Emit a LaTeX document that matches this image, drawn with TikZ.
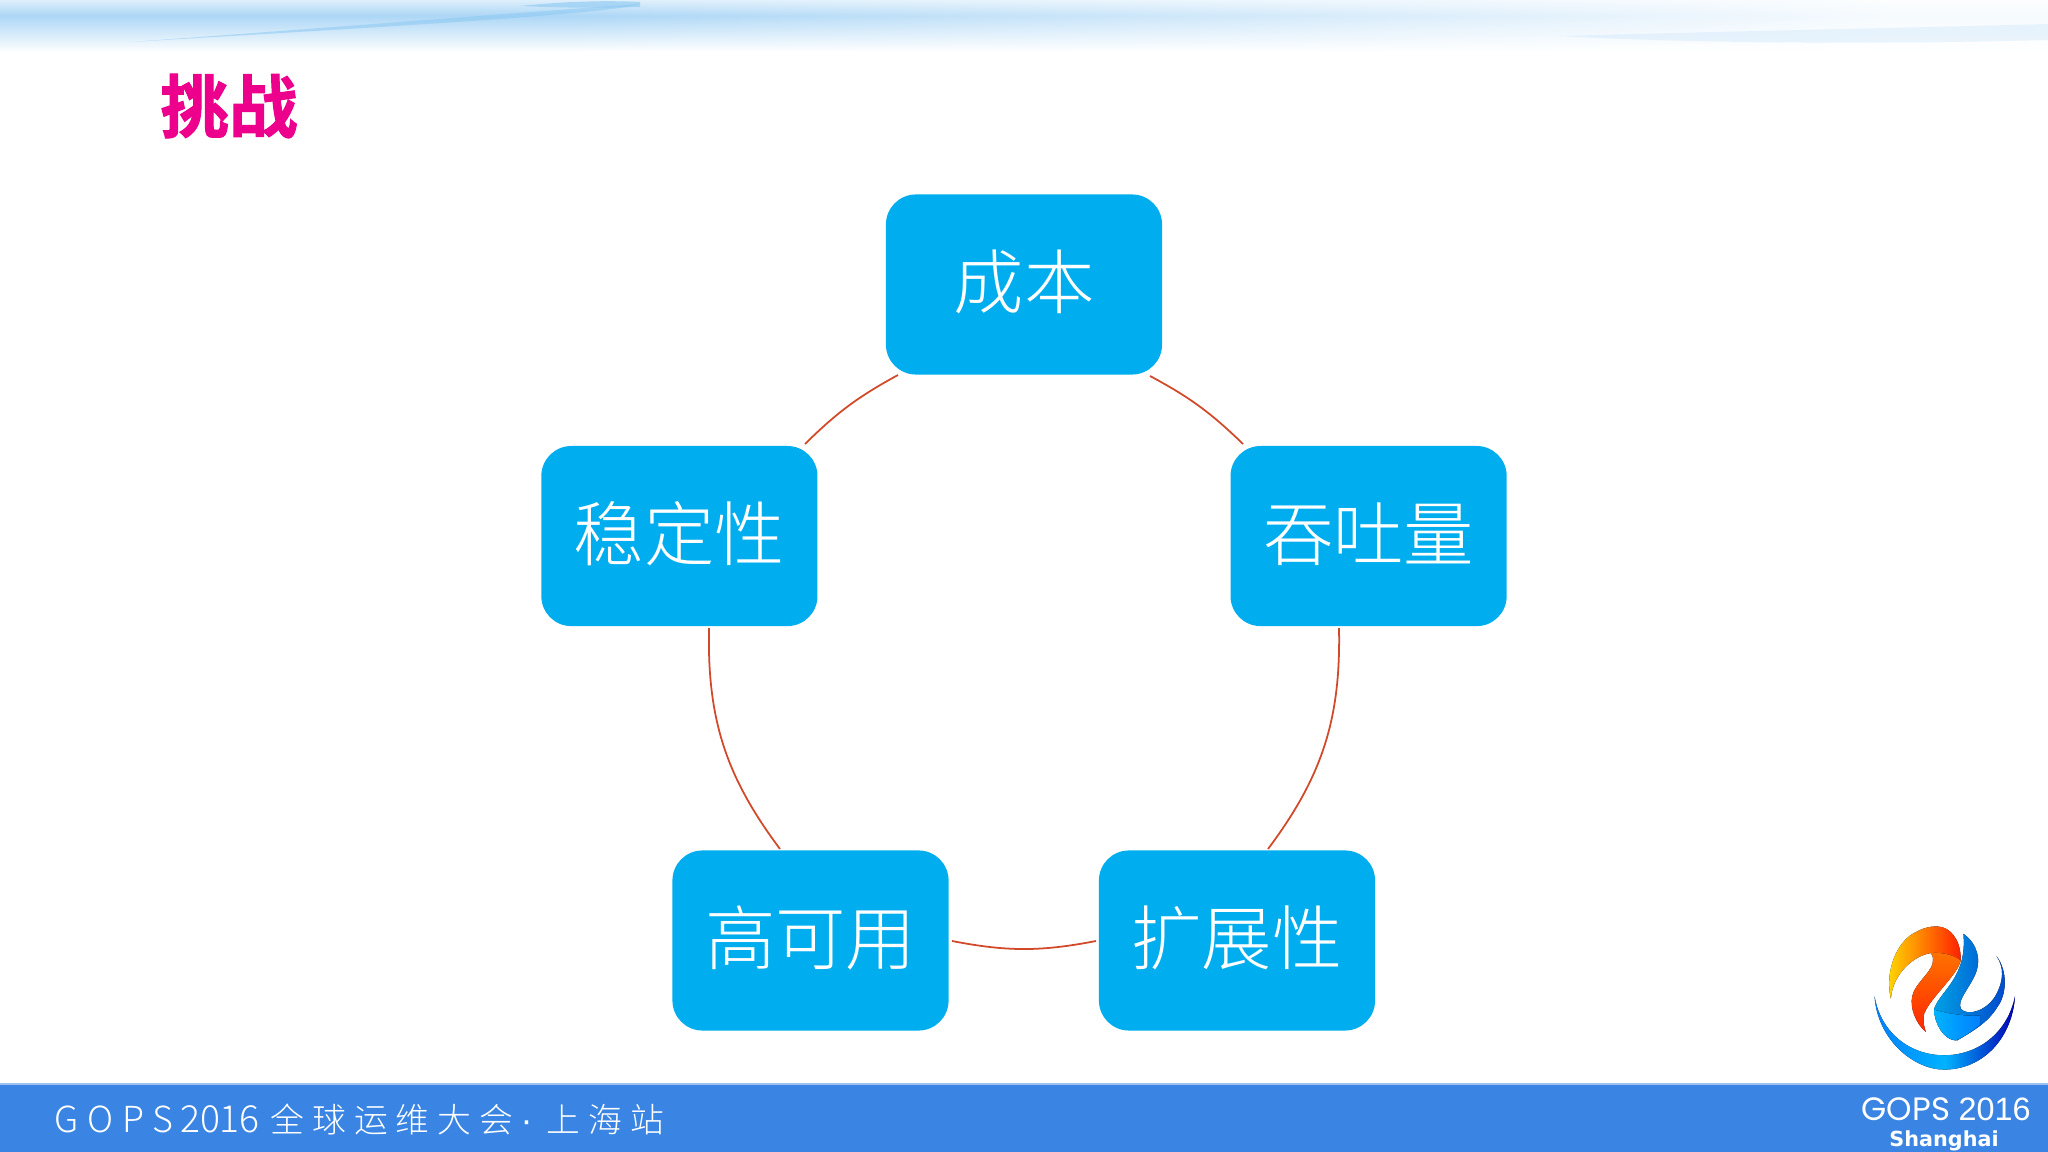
\documentclass[tikz,border=0pt]{standalone}
\usepackage{fontspec}
\usepackage{tikz}
\usetikzlibrary{positioning}
\newfontfamily\cjkfont{Noto Sans CJK SC Light}
\newfontfamily\cjkbold[FakeBold=1.5]{Noto Sans CJK SC Bold}
\newfontfamily\footfont[LetterSpace=24]{Noto Sans CJK SC Light}
\newfontfamily\footplain{Noto Sans CJK SC Light}
\newfontfamily\logofont{Poppins}
\newfontfamily\yearfont{Liberation Sans}
\definecolor{boxblue}{HTML}{00AEEF}
\definecolor{arcred}{HTML}{D2492A}
\definecolor{barblue}{HTML}{3A85E3}
\definecolor{titlepink}{HTML}{EC008C}
\definecolor{skyblue}{HTML}{8CC8F2}
\pgfdeclarefunctionalshading{skyband}{\pgfpoint{-50bp}{-50bp}}{\pgfpoint{50bp}{50bp}}{}{
  25 exch sub 50 div
  dup 0 lt {pop 0}{} ifelse
  dup 1 gt {pop 1}{} ifelse
  dup 0.3 lt {2.0 mul 0.4 add}{1 exch sub 1.43 mul} ifelse
  exch 25 add 50 div 1 exch sub
  dup 0.08 lt {pop 0.08}{} ifelse
  dup 0.72 gt {pop 0.72}{} ifelse
  mul
  dup 0.45 mul 1 exch sub exch
  dup 0.22 mul 1 exch sub exch
  0.05 mul 1 exch sub
}
\begin{document}
\begin{tikzpicture}[x=0.01cm,y=-0.01cm,
  roundbox/.style={rectangle, rounded corners=0.3cm, fill=boxblue, text=white, minimum width=2.76cm, minimum height=1.8cm, inner sep=0pt, text height=18pt, text depth=4.2pt, font=\cjkfont\fontsize{20}{24}\selectfont},
  ringarc/.style={draw=arcred, line width=0.5pt},
  footlabel/.style={text=white, inner sep=0pt, anchor=base west}]
\useasboundingbox (0,0) rectangle (2048,1152);
%Background
\fill[white] (0,0) rectangle (2048,1152);
\fill[shading=skyband] (0,0) rectangle (2048,52);
\fill[skyblue, opacity=0.55] (130,42) .. controls (300,30) and (500,14) .. (640,4) .. controls (610,14) and (400,26) .. (130,42) -- cycle;
\fill[skyblue, opacity=0.6] (520,6) .. controls (560,2) and (600,0) .. (640,2) -- (640,7) .. controls (600,8) and (560,8) .. (520,6) -- cycle;
\fill[skyblue!50!white, opacity=0.35] (1560,36) .. controls (1700,32) and (1900,28) .. (2048,24) -- (2048,40) .. controls (1900,44) and (1700,44) .. (1560,36) -- cycle;
\fill[barblue] (0,1084) rectangle (2048,1152);
\draw[barblue!50!white, line width=0.4pt] (0,1084) -- (2048,1084);
%Nodes
\node[roundbox] (cost)       at (1024,284.5)                       {成本};
\node[roundbox] (throughput) [below right=0.70cm and 0.67cm of cost] {吞吐量};
\node[roundbox] (stability)  [below left=0.70cm and 0.67cm of cost]  {稳定性};
\node[roundbox] (avail)      at (810.5,940.5)                        {高可用};
\node[roundbox] (scale)      at (1237,940.5)                         {扩展性};
\node[text=titlepink, inner sep=0pt, font=\cjkbold\fontsize{19.5}{24}\selectfont] (title) at (229,106) {挑战};
%Arcs
\coordinate (a1) at (898,375);
\coordinate (a2) at (1243,444);
\coordinate (a3) at (1339,628);
\coordinate (a4) at (1268,849);
\coordinate (a5) at (1096,941);
\coordinate (a6) at (952,941);
\coordinate (a7) at (780,849);
\coordinate (a8) at (709,628);
\coordinate (a9) at (805,444);
\coordinate (a10) at (1150,376);
\draw[ringarc] (a10) to[bend left=8] (a2);
\draw[ringarc] (a3) to[bend left=19] (a4);
\draw[ringarc] (a5) to[bend left=11] (a6);
\draw[ringarc] (a7) to[bend left=19] (a8);
\draw[ringarc] (a9) to[bend left=8] (a1);
%Footer
\node[footlabel, font=\footplain\fontsize{10.2}{12}\selectfont] (footer) at (54,1132) {{\footfont GOPS}\hspace{2pt}{\fontsize{10.6}{12}\selectfont 2016}\hspace{3pt}{\footfont\fontsize{9.6}{12}\selectfont 全球运维大会}\hspace{2pt}{\yearfont ·}\hspace{4pt}{\footfont\fontsize{9.6}{12}\selectfont 上海站}};
\node[footlabel, font=\logofont\fontsize{9.2}{11}\selectfont] (gops) at (1861,1120) {GOPS};
\node[footlabel, font=\yearfont\fontsize{9.2}{11}\selectfont] (year) at (1958,1120) {2016};
\node[text=white, inner sep=0pt, font=\fontspec{DejaVu Sans Bold}\fontsize{5.9}{7}\selectfont] (city) at (1944,1141) {Shanghai};
%Logo
\begin{scope}[xshift=17.8cm,yshift=-9cm,x=0.003333cm,y=-0.003333cm]
\fill[left color=yellow!75!orange, right color=red!75!orange] (330,295) .. controls (310,210) and (350,120) .. (405,95) .. controls (430,80) and (480,65) .. (510,95) .. controls (535,120) and (540,150) .. (540,180) .. controls (520,165) and (480,155) .. (450,158) .. controls (400,165) and (335,220) .. (330,295) -- cycle;
\fill[top color=orange!90!red, bottom color=red!70!orange] (450,158) .. controls (490,155) and (520,165) .. (540,180) .. controls (530,225) and (450,290) .. (430,340) .. controls (425,360) and (430,380) .. (435,395) .. controls (405,370) and (385,320) .. (395,285) .. controls (405,240) and (480,200) .. (450,158) -- cycle;
\fill[left color=blue!30!cyan!90!black, right color=blue!65!cyan!80!black] (548,100) .. controls (590,130) and (605,180) .. (580,230) .. controls (560,270) and (530,300) .. (540,325) .. controls (560,350) and (620,330) .. (645,285) .. controls (670,240) and (670,200) .. (648,168) .. controls (680,210) and (680,280) .. (650,320) .. controls (620,370) and (570,395) .. (530,420) .. controls (500,425) and (460,370) .. (460,325) .. controls (480,270) and (560,230) .. (548,100) -- cycle;
\fill[left color=cyan!70!blue, right color=blue!50!cyan] (460,328) .. controls (500,340) and (560,350) .. (600,345) -- (600,372) .. controls (570,395) and (550,410) .. (525,420) .. controls (490,420) and (460,370) .. (460,328) -- cycle;
\fill[left color=blue!50!cyan, right color=blue!70!black, middle color=cyan!70!blue] (281,288) .. controls (290,420) and (400,508) .. (490,508) .. controls (610,508) and (695,410) .. (703,288) .. controls (680,400) and (590,465) .. (490,465) .. controls (390,465) and (300,400) .. (281,288) -- cycle;
\end{scope}
\end{tikzpicture}
\end{document}
